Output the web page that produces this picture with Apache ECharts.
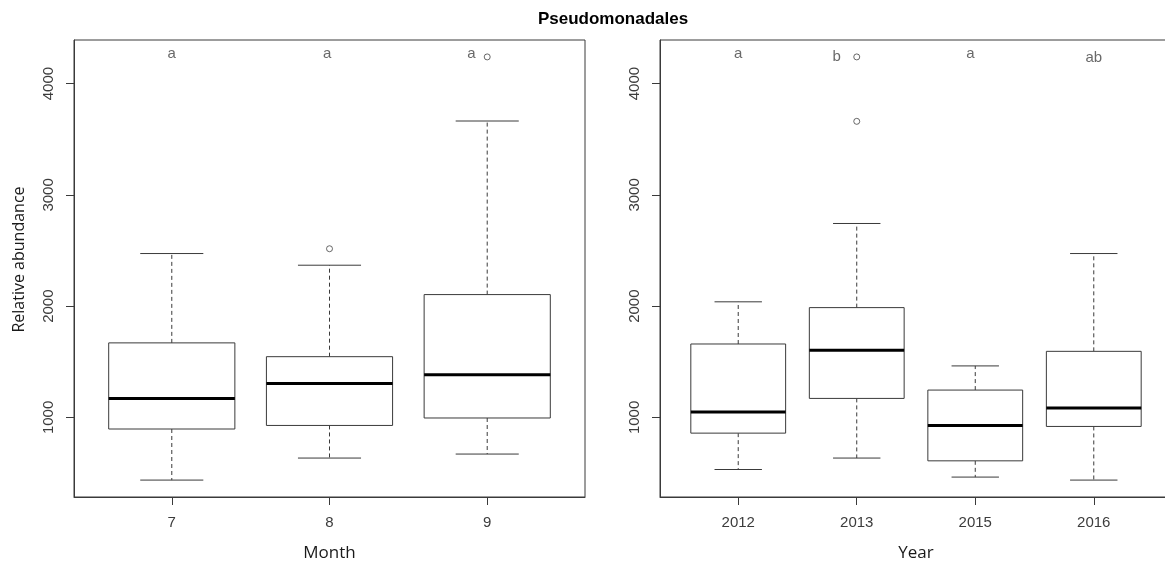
<!DOCTYPE html>
<html lang="en">
<head>
<meta charset="UTF-8">
<title>Pseudomonadales</title>
<script src="https://cdn.jsdelivr.net/npm/echarts@6/dist/echarts.min.js"></script>
<style>
  html, body { margin: 0; padding: 0; background: #fff; }
  #chart { width: 1165px; height: 569px; }
</style>
</head>
<body>
<div id="chart"></div>
<script>
  // left panel: by month. each box is [min, Q1, median, Q3, max]
  const monthCats = ['7', '8', '9'];
  const monthBoxes = [
    [437, 896, 1171, 1670, 2473],
    [635, 928, 1306, 1546, 2368],
    [671, 995, 1384, 2104, 3664]
  ];
  const monthOutliers = [[2, 2516], [3, 4240]];
  const monthLetters = ['a', 'a', 'a'];
  const monthLetterAt = [[1, 4270], [1.985, 4270], [2.9, 4270]];

  // right panel: by year
  const yearCats = ['2012', '2013', '2015', '2016'];
  const yearBoxes = [
    [532, 859, 1048, 1660, 2039],
    [635, 1171, 1603, 1987, 2743],
    [464, 610, 928, 1246, 1463],
    [437, 919, 1085, 1594, 2473]
  ];
  const yearOutliers = [[2, 3661], [2, 4240]];
  const yearLetters = ['a', 'b', 'a', 'ab'];
  const yearLetterAt = [[1, 4270], [1.83, 4237], [2.96, 4270], [4.0, 4233]];

  const yTicks = [1000, 2000, 3000, 4000];
  const yMin = 285, yMax = 4392;

  const ink = '#3a3a3a';
  const labelFont = { fontFamily: 'Liberation Sans', fontSize: 15, color: '#3c3c3c' };
  const nameFont = { fontFamily: 'Open Sans', fontSize: 17, color: '#1a1a1a' };

  function seg(a, b, style) {
    return { type: 'line', shape: { x1: a[0], y1: a[1], x2: b[0], y2: b[1] }, style };
  }

  // R style box: dashed whiskers, short caps, thick median
  function renderBox(params, api) {
    const x = api.value(0);
    const v = [1, 2, 3, 4, 5].map(i => api.value(i));
    const p = (dx, y) => api.coord([x + dx, y]);
    const dashed = { stroke: ink, lineWidth: 1, lineDash: [4, 3] };
    const solid = { stroke: ink, lineWidth: 1 };
    const tl = p(-0.4, v[3]);
    const br = p(0.4, v[1]);
    return {
      type: 'group',
      children: [
        seg(p(0, v[3]), p(0, v[4]), dashed),
        seg(p(0, v[1]), p(0, v[0]), dashed),
        seg(p(-0.2, v[4]), p(0.2, v[4]), solid),
        seg(p(-0.2, v[0]), p(0.2, v[0]), solid),
        {
          type: 'rect',
          shape: { x: tl[0], y: tl[1], width: br[0] - tl[0], height: br[1] - tl[1] },
          style: { fill: '#fff', stroke: ink, lineWidth: 1 }
        },
        seg(p(-0.4, v[2]), p(0.4, v[2]), { stroke: '#000', lineWidth: 3 })
      ]
    };
  }

  function xAxisFor(gridIndex, cats, name) {
    const pos = cats.map((c, i) => i + 1);
    const pad = 0.04 * cats.length;
    return {
      type: 'value',
      gridIndex,
      min: 0.5 - pad,
      max: cats.length + 0.5 + pad,
      name,
      nameLocation: 'middle',
      nameGap: 48,
      nameTextStyle: nameFont,
      axisLine: { show: true, onZero: false, lineStyle: { color: ink } },
      axisTick: { show: true, length: 8, customValues: pos, lineStyle: { color: ink } },
      axisLabel: {
        customValues: pos,
        formatter: v => cats[Math.round(v) - 1],
        margin: 18,
        ...labelFont
      },
      splitLine: { show: false }
    };
  }

  function yAxisFor(gridIndex, name) {
    return {
      type: 'value',
      gridIndex,
      min: yMin,
      max: yMax,
      name,
      nameLocation: 'middle',
      nameGap: 47,
      // nudged up a little, as in the original
      nameTextStyle: { ...nameFont, fontSize: 16, padding: [0, 0, 0, 18] },
      axisLine: { show: true, onZero: false, lineStyle: { color: ink } },
      axisTick: { show: true, length: 8, customValues: yTicks, lineStyle: { color: ink } },
      axisLabel: { customValues: yTicks, rotate: 90, margin: 18, formatter: v => String(v), ...labelFont },
      splitLine: { show: false }
    };
  }

  function letterSeries(idx, letters, at) {
    return {
      type: 'scatter',
      xAxisIndex: idx,
      yAxisIndex: idx,
      symbolSize: 0,
      silent: true,
      data: at.map((p, i) => ({ value: p, name: letters[i] })),
      label: {
        show: true,
        position: 'inside',
        formatter: d => d.name,
        ...labelFont,
        color: '#444'
      }
    };
  }

  function outlierSeries(idx, pts) {
    return {
      type: 'scatter',
      xAxisIndex: idx,
      yAxisIndex: idx,
      symbol: 'circle',
      symbolSize: 6,
      itemStyle: { color: '#fff', borderColor: '#444', borderWidth: 1 },
      data: pts
    };
  }

  const chart = echarts.init(document.getElementById('chart'));
  chart.setOption({
    animation: false,
    backgroundColor: '#fff',
    title: {
      text: 'Pseudomonadales',
      left: 613,
      textAlign: 'center',
      top: 11,
      padding: 0,
      textStyle: { fontFamily: 'Liberation Sans', fontWeight: 'bold', fontSize: 17, color: '#000' }
    },
    grid: [
      { left: 74, top: 40, width: 511, height: 457, show: true, borderColor: ink, borderWidth: 1, outerBoundsMode: 'none' },
      { left: 660, top: 40, width: 512, height: 457, show: true, borderColor: ink, borderWidth: 1, outerBoundsMode: 'none' }
    ],
    xAxis: [xAxisFor(0, monthCats, 'Month'), xAxisFor(1, yearCats, 'Year')],
    yAxis: [yAxisFor(0, 'Relative abundance'), yAxisFor(1, '')],
    series: [
      {
        type: 'custom',
        xAxisIndex: 0,
        yAxisIndex: 0,
        renderItem: renderBox,
        clip: false,
        encode: { x: 0, y: [1, 2, 3, 4, 5] },
        data: monthBoxes.map((b, i) => [i + 1, ...b])
      },
      {
        type: 'custom',
        xAxisIndex: 1,
        yAxisIndex: 1,
        renderItem: renderBox,
        clip: false,
        encode: { x: 0, y: [1, 2, 3, 4, 5] },
        data: yearBoxes.map((b, i) => [i + 1, ...b])
      },
      outlierSeries(0, monthOutliers),
      outlierSeries(1, yearOutliers),
      letterSeries(0, monthLetters, monthLetterAt),
      letterSeries(1, yearLetters, yearLetterAt)
    ]
  });
</script>
</body>
</html>
